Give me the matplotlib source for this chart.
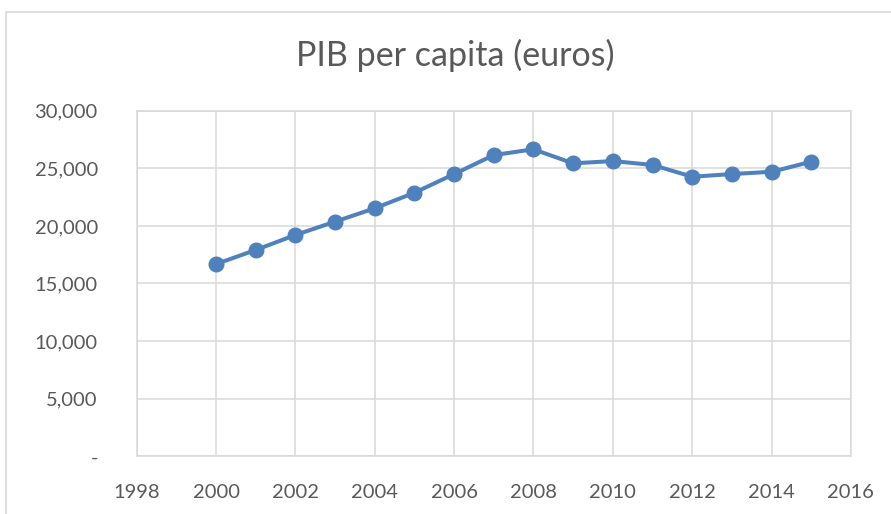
import matplotlib
matplotlib.use('Agg')
import matplotlib.pyplot as plt
from matplotlib.patches import Rectangle
from matplotlib.ticker import FuncFormatter

years = [2000, 2001, 2002, 2003, 2004, 2005, 2006, 2007,
         2008, 2009, 2010, 2011, 2012, 2013, 2014, 2015]
pib = [16690, 17910, 19210, 20370, 21530, 22880, 24500, 26150,
       26650, 25430, 25630, 25290, 24270, 24500, 24700, 25570]

x_ticks = list(range(1998, 2017, 2))
y_ticks = list(range(0, 30001, 5000))

plt.rcParams['font.family'] = ['Lato', 'DejaVu Sans']
grey_txt = '#595959'
grid_col = '#d9d9d9'
line_col = '#4f81bd'

fig = plt.figure(figsize=(8.91, 5.14), dpi=100)
ax = fig.add_axes([0.1534, 0.1123, 0.8016, 0.6723])

# chart area border
fig.patches.append(Rectangle((6/891, -0.01), 1.0, 1.01 - 12/514, transform=fig.transFigure,
                             fill=False, edgecolor=grid_col, linewidth=1.2))

ax.plot(years, pib, color=line_col, linewidth=2.9, marker='o', markersize=10.5,
        markerfacecolor=line_col, markeredgecolor=line_col, zorder=3)

ax.set_xlim(1998, 2016)
ax.set_ylim(0, 30000)
ax.set_xticks(x_ticks)
ax.set_yticks(y_ticks)
ax.yaxis.set_major_formatter(FuncFormatter(lambda v, p: '-' if v == 0 else f'{int(v):,}'))

ax.grid(True, color=grid_col, linewidth=1.1)
ax.set_axisbelow(True)
for s in ax.spines.values():
    s.set_color(grid_col)
    s.set_linewidth(1.1)
ax.tick_params(axis='both', length=0, labelsize=14.5, labelcolor=grey_txt)
ax.tick_params(axis='x', pad=20)
ax.tick_params(axis='y', pad=28)
for lab in ax.get_yticklabels():
    lab.set_horizontalalignment('right')

fig.text(0.511, 1 - 55/514, 'PIB per capita (euros)', ha='center', va='center',
         fontsize=24.5, color=grey_txt)

fig.savefig('out.png', dpi=100)
